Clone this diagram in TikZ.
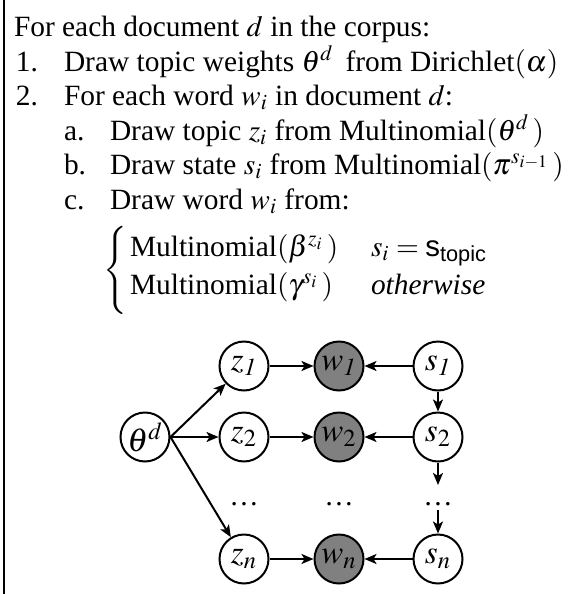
\documentclass[tikz,border=0pt]{standalone}
\usepackage{amsmath}
\usepackage{mathptmx}
\usepackage[no-math]{fontspec}
\setmainfont{Liberation Serif}
\setsansfont{Liberation Sans}
\usetikzlibrary{arrows.meta}
\begin{document}
\begin{tikzpicture}[x=0.5pt, y=-0.5pt, >={Stealth[length=6pt, width=5pt, inset=1.5pt]}, line width=1pt,
    every node/.style={font=\fontsize{14.7}{17}\selectfont},
    txt/.style={anchor=base west, inner sep=0pt},
    var/.style={circle, draw, minimum size=24.5pt, inner sep=0pt, font=\fontsize{16.5}{18}\selectfont},
    obs/.style={var, fill=gray}]
  \useasboundingbox (0,0) rectangle (569,594);
  % left rule
  \draw (3.5,0) -- (3.5,594);

  % generative process
  \node[txt] (head) at (13,36) {For each document $d$ in the corpus:};
  \node[txt] (n1) at (15,71) {1.};
  \node[txt] (l1) at (63,71) {Draw topic weights $\theta^d$\, from Dirichlet$(\alpha)$};
  \node[txt] (n2) at (15,105) {2.};
  \node[txt] (l2) at (63,105) {For each word $w_i$ in document $d$:};
  \node[txt] (na) at (63,140) {a.};
  \node[txt] (la) at (109,140) {Draw topic $z_i$ from Multinomial$(\theta^d\,)$};
  \node[txt] (nb) at (63,174) {b.};
  \node[txt] (lb) at (109,174) {Draw state $s_i$ from Multinomial$(\pi^{s_{i-1}}\,)$};
  \node[txt] (nc) at (63,209) {c.};
  \node[txt] (lc) at (109,209) {Draw word $w_i$ from:};
  % cases
  \node[anchor=east, inner sep=0pt] (brace) at (131,270)
    {$\left\{\vcenter{\hbox{\rule{0pt}{42pt}}}\right.$};
  \node[txt] (c1) at (129,256) {Multinomial$(\beta^{z_i}\,)$};
  \node[txt] (c2) at (129,294) {Multinomial$(\gamma^{s_i}\,)$};
  \node[txt] (k1) at (370,256) {$s_i = \textsf{s}_{\textsf{topic}}$};
  \node[txt] (k2) at (370,294) {\textit{otherwise}};

  % graphical model
  \node[var] (theta) at (145,437) {$\theta^d$};
  \node[var] (z1) at (244,366) {$z_{\mathit{1}}$};
  \node[obs] (w1) at (339,366) {$w_{\mathit{1}}$};
  \node[var] (s1) at (438,366) {$s_{\mathit{1}}$};
  \node[var] (z2) at (244,437) {$z_2$};
  \node[obs] (w2) at (339,437) {$w_2$};
  \node[var] (s2) at (438,437) {$s_2$};
  \node[anchor=base] (dz) at (244,505) {\dots};
  \node[anchor=base] (dw) at (339,505) {\dots};
  \node[anchor=base] (ds) at (438,505) {\dots};
  \node[var] (zn) at (244,559) {$z_n$};
  \node[obs] (wn) at (339,559) {$w_n$};
  \node[var] (sn) at (438,559) {$s_n$};
  \coordinate (sgap1) at (438,485);
  \coordinate (sgap2) at (438,510);

  % edges
  \draw[->] (theta.east) -- (z1);
  \draw[->] (theta.east) -- (z2);
  \draw[->] (theta.east) -- (zn);
  \draw[->] (z1) -- (w1);
  \draw[->] (z2) -- (w2);
  \draw[->] (zn) -- (wn);
  \draw[->] (s1) -- (w1);
  \draw[->] (s2) -- (w2);
  \draw[->] (sn) -- (wn);
  \draw[->] (s1) -- (s2);
  \draw[->] (s2) -- (sgap1);
  \draw[->] (sgap2) -- (sn);
\end{tikzpicture}
\end{document}
